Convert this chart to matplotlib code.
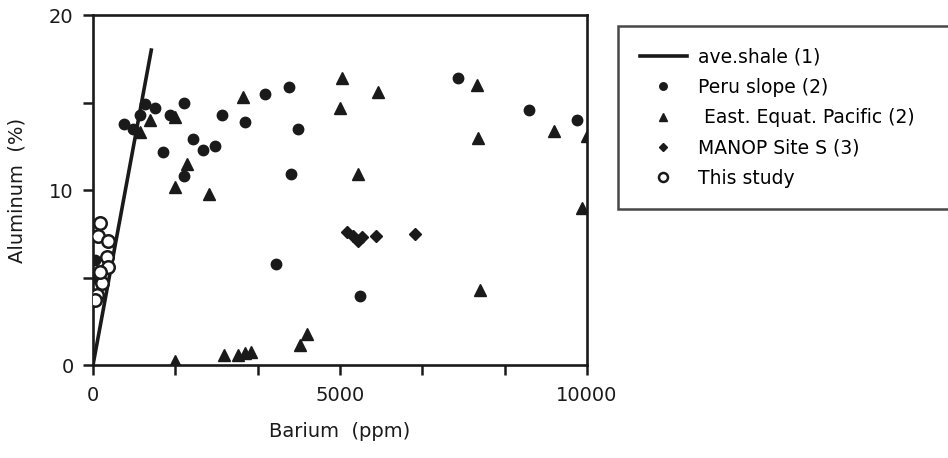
import numpy as np
import matplotlib.pyplot as plt
from matplotlib.ticker import FixedLocator

plt.rcParams['font.family'] = ['DejaVu Sans']

# ave. shale reference line (Ba ppm, Al %)
shale_ba = [0, 1180]
shale_al = [0, 18.0]

# Peru slope (2)
peru_ba = [627, 810, 951, 1052, 1255, 1558, 1842, 1417, 2024, 2226, 2469, 2611,
           3077, 3481, 3967, 4149, 4008, 1842, 3704, 5404, 7388, 8825, 9796, 40, 30]
peru_al = [13.8, 13.5, 14.3, 14.9, 14.7, 14.3, 15.0, 12.2, 12.9, 12.3, 12.5, 14.3,
           13.9, 15.5, 15.9, 13.5, 10.9, 10.8, 5.8, 3.95, 16.4, 14.6, 14.0, 6.0, 5.0]

# East. Equat. Pacific (2)
eep_ba = [950, 1150, 1660, 3036, 1903, 1660, 2348, 1660, 2652, 2935, 3077, 3198,
          4190, 4331, 5040, 5768, 5000, 7772, 7792, 9331, 10000, 9897, 5364, 7833]
eep_al = [13.3, 14.0, 14.2, 15.3, 11.5, 10.2, 9.8, 0.23, 0.57, 0.57, 0.69, 0.74,
          1.15, 1.8, 16.4, 15.6, 14.7, 16.0, 13.0, 13.4, 13.1, 9.0, 10.9, 4.3]

# MANOP Site S (3)
manop_ba = [5141, 5262, 5364, 5444, 5728, 6517]
manop_al = [7.6, 7.4, 7.1, 7.3, 7.4, 7.5]

# This study
this_ba = [142, 101, 304, 283, 304, 182, 142, 81, 40]
this_al = [8.1, 7.4, 7.1, 6.2, 5.6, 4.7, 5.3, 4.0, 3.7]

ink = '#1a1a1a'

fig = plt.figure(figsize=(9.48, 4.58), dpi=100)
ax = fig.add_axes([0.0981, 0.203, 0.521, 0.764])

ln, = ax.plot(shale_ba, shale_al, color=ink, lw=2.6, zorder=2)
p1, = ax.plot(peru_ba, peru_al, 'o', color=ink, ms=7.5, ls='none', zorder=3)
p2, = ax.plot(eep_ba, eep_al, '^', color=ink, ms=8, ls='none', zorder=3)
p3, = ax.plot(manop_ba, manop_al, 'D', color=ink, ms=6, ls='none', zorder=3)
p4, = ax.plot(this_ba, this_al, 'o', mfc='white', mec=ink, mew=1.8, ms=9,
              ls='none', zorder=4)

ax.set_xlim(0, 10000)
ax.set_ylim(0, 20)
ax.xaxis.set_major_locator(FixedLocator([0, 5000, 10000]))
ax.xaxis.set_minor_locator(FixedLocator([10000 / 6 * i for i in (1, 2, 4, 5)]))
ax.yaxis.set_major_locator(FixedLocator([0, 10, 20]))
ax.yaxis.set_minor_locator(FixedLocator([5, 15]))
ax.tick_params(which='both', direction='out', length=7, width=1.8, labelsize=14,
               color=ink, labelcolor=ink)
ax.tick_params(axis='x', which='both', pad=8)
ax.tick_params(axis='y', which='both', pad=7)
for s in ax.spines.values():
    s.set_linewidth(1.9)
    s.set_color(ink)

ax.set_xlabel('Barium  (ppm)', fontsize=14, color=ink, labelpad=12)
ax.set_ylabel('Aluminum  (%)', fontsize=14, color=ink, labelpad=16)

leg = fig.legend([ln, p1, p2, p3, p4],
                 ['ave.shale (1)', 'Peru slope (2)', ' East. Equat. Pacific (2)',
                  'MANOP Site S (3)', 'This study'],
                 loc='upper left', bbox_to_anchor=(0.652, 0.548, 0.36, 0.395),
                 mode='expand', borderaxespad=0, fontsize=13.5,
                 frameon=True, fancybox=False, edgecolor=ink,
                 handlelength=2.5, handletextpad=0.6, labelspacing=0.6,
                 borderpad=1.15, markerscale=0.72)
leg.get_frame().set_linewidth(1.8)

fig.savefig('out.png', dpi=100)
